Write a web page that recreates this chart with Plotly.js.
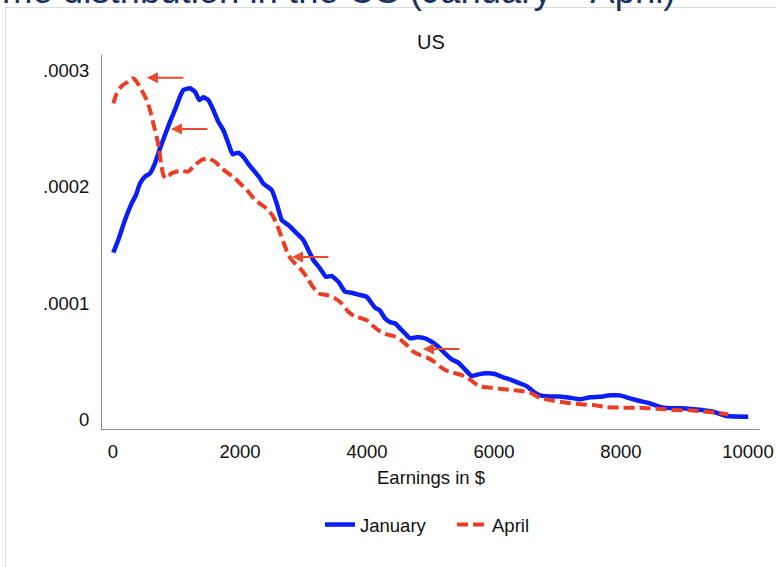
<!DOCTYPE html>
<html>
<head>
<meta charset="utf-8">
<script src="https://cdn.plot.ly/plotly-3.0.1.min.js"></script>
<style>
  html, body { margin: 0; padding: 0; background: #ffffff; }
  #chart { width: 776px; height: 567px; }
</style>
</head>
<body>
<div id="chart"></div>
<script>
// ---- Data (earnings in $, density in units of 1e-4) ----
const janX = [5, 83, 189, 294, 362, 425, 504, 583, 661, 740, 819, 898, 976, 1055, 1108, 1213, 1291, 1360, 1422, 1501, 1580, 1659, 1738, 1816, 1885, 1974, 2052, 2131, 2236, 2315, 2367, 2499, 2578, 2657, 2761, 2893, 2997, 3076, 3155, 3260, 3354, 3444, 3549, 3654, 3759, 3890, 3995, 4126, 4205, 4283, 4362, 4441, 4520, 4598, 4677, 4782, 4913, 5018, 5123, 5228, 5333, 5438, 5543, 5648, 5753, 5885, 6016, 6147, 6278, 6409, 6515, 6619, 6724, 6882, 7039, 7197, 7354, 7512, 7669, 7827, 7984, 8142, 8299, 8457, 8666, 8929, 9192, 9454, 9664, 10005];
const janY = [1.434, 1.543, 1.716, 1.859, 1.931, 2.03, 2.089, 2.118, 2.204, 2.333, 2.448, 2.563, 2.664, 2.778, 2.836, 2.851, 2.822, 2.75, 2.773, 2.75, 2.664, 2.563, 2.491, 2.377, 2.282, 2.296, 2.261, 2.2, 2.13, 2.075, 2.03, 1.974, 1.859, 1.716, 1.672, 1.601, 1.543, 1.457, 1.371, 1.299, 1.227, 1.233, 1.184, 1.098, 1.089, 1.069, 1.054, 0.96, 0.935, 0.868, 0.835, 0.825, 0.782, 0.739, 0.696, 0.704, 0.696, 0.666, 0.623, 0.566, 0.515, 0.486, 0.428, 0.371, 0.385, 0.394, 0.388, 0.359, 0.336, 0.307, 0.284, 0.236, 0.203, 0.195, 0.195, 0.184, 0.17, 0.187, 0.192, 0.204, 0.204, 0.178, 0.155, 0.135, 0.098, 0.092, 0.083, 0.063, 0.026, 0.02];

const aprX = [5, 58, 137, 215, 310, 373, 451, 530, 583, 635, 688, 729, 756, 793, 830, 924, 1055, 1186, 1291, 1397, 1501, 1606, 1712, 1816, 1921, 2027, 2131, 2236, 2315, 2420, 2525, 2603, 2682, 2761, 2840, 2945, 3050, 3129, 3234, 3365, 3496, 3601, 3706, 3811, 3916, 4000, 4100, 4205, 4310, 4415, 4520, 4625, 4729, 4835, 4940, 5044, 5150, 5255, 5359, 5491, 5595, 5701, 5806, 5963, 6121, 6278, 6436, 6593, 6724, 6934, 7145, 7354, 7564, 7775, 8037, 8299, 8562, 8824, 9087, 9350, 9507, 9690];
const aprY = [2.721, 2.807, 2.871, 2.9, 2.937, 2.908, 2.836, 2.75, 2.664, 2.549, 2.434, 2.319, 2.204, 2.103, 2.075, 2.118, 2.141, 2.132, 2.19, 2.233, 2.247, 2.218, 2.161, 2.118, 2.075, 2.017, 1.96, 1.888, 1.856, 1.816, 1.744, 1.644, 1.529, 1.414, 1.356, 1.299, 1.227, 1.155, 1.083, 1.069, 1.04, 0.997, 0.925, 0.882, 0.868, 0.85, 0.8, 0.757, 0.73, 0.716, 0.687, 0.638, 0.58, 0.552, 0.532, 0.5, 0.451, 0.416, 0.399, 0.379, 0.351, 0.307, 0.278, 0.27, 0.259, 0.25, 0.241, 0.221, 0.182, 0.158, 0.141, 0.127, 0.121, 0.101, 0.098, 0.098, 0.089, 0.078, 0.075, 0.063, 0.055, 0.04];

const seriesNames = ['January', 'April'];
const xTickVals = [0, 2000, 4000, 6000, 8000, 10000];
const xTickText = ['0', '2000', '4000', '6000', '8000', '10000'];
const yTickVals = [0, 0.0001, 0.0002, 0.0003];
const yTickText = ['0', '.0001', '.0002', '.0003'];

// arrow tips (earnings, density in 1e-4)
const arrowX = [535, 913, 2819, 4882];
const arrowY = [2.942, 2.5, 1.397, 0.603];

const chartTitle = 'US';
const xTitle = 'Earnings in $';
const slideTitle = 'Income distribution in the US (January – April)';

// ---- Build ----
const scale = v => v * 1e-4;
const FONT = 'Liberation Sans, Arial, Helvetica, sans-serif';
const BLUE = '#0a1ff5';
const RED = '#ec3d24';
const TXT = '#111111';
const FS = 18.5;

const traces = [
  {
    x: janX, y: janY.map(scale), name: seriesNames[0], type: 'scatter', mode: 'lines',
    line: { color: BLUE, width: 4.5, shape: 'spline', smoothing: 0.4 }
  },
  {
    x: aprX, y: aprY.map(scale), name: seriesNames[1], type: 'scatter', mode: 'lines',
    line: { color: RED, width: 4, dash: '11px,5px', shape: 'spline', smoothing: 0.4 }
  }
];

const W = 776, H = 567;
const L = 102, R = 16, T = 55, B = 138;
const pw = W - L - R, ph = H - T - B;
const px2paperX = px => (px - L) / pw;
const py2paperY = py => (H - B - py) / ph;

const annotations = arrowX.map((ax, i) => ({
  x: ax, y: scale(arrowY[i]), xref: 'x', yref: 'y',
  text: '', showarrow: true, ax: 38, ay: 0,
  arrowhead: 2, arrowsize: 1.1, arrowwidth: 2, arrowcolor: '#ea4a30', standoff: 0
}));

annotations.push({
  text: slideTitle, xref: 'paper', yref: 'paper',
  x: px2paperX(678), y: py2paperY(13.5), xanchor: 'right', yanchor: 'bottom',
  showarrow: false, font: { family: FONT, size: 36.5, color: '#1c3160' }
});

const layout = {
  width: W, height: H,
  margin: { l: L, r: R, t: T, b: B, pad: 0 },
  paper_bgcolor: '#ffffff', plot_bgcolor: '#ffffff',
  font: { family: FONT, size: FS, color: TXT },
  title: { text: chartTitle, x: 431 / W, xanchor: 'center',
           y: (H - 42) / H, yanchor: 'middle', yref: 'container',
           font: { family: FONT, size: 20, color: TXT } },
  showlegend: true,
  legend: { orientation: 'h', x: px2paperX(320), xanchor: 'left', y: py2paperY(525), yanchor: 'middle',
            font: { family: FONT, size: FS, color: TXT }, itemwidth: 30, entrywidth: 87, tracegroupgap: 0 },
  xaxis: {
    range: [-173, 10190], showgrid: false, zeroline: false,
    showline: true, linecolor: '#8a8a8a', linewidth: 1,
    ticks: '', tickvals: xTickVals, ticktext: xTickText,
    ticklabelstandoff: 6,
    title: { text: xTitle, standoff: 9, font: { family: FONT, size: FS, color: TXT } }
  },
  yaxis: {
    range: [-0.0000086, 0.0003138], showgrid: false, zeroline: false,
    showline: true, linecolor: '#8a8a8a', linewidth: 1,
    ticks: '', tickvals: yTickVals, ticktext: yTickText,
    ticklabelstandoff: 8
  },
  shapes: [{
    type: 'rect', xref: 'paper', yref: 'paper',
    x0: px2paperX(5.5), x1: px2paperX(900), y0: py2paperY(700), y1: py2paperY(7.5),
    line: { color: '#dcdcdc', width: 1 }, fillcolor: 'rgba(0,0,0,0)', layer: 'below'
  }],
  annotations: annotations
};

Plotly.newPlot('chart', traces, layout, { displayModeBar: false, staticPlot: true });
</script>
</body>
</html>
